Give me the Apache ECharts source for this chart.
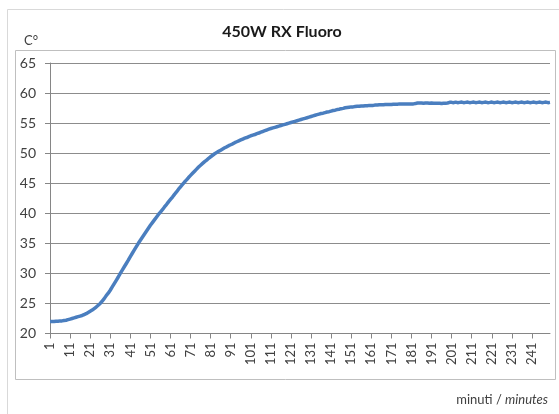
<!DOCTYPE html>
<html>
<head>
<meta charset="utf-8">
<script src="https://cdn.jsdelivr.net/npm/echarts@6/dist/echarts.min.js"></script>
<style>
  html, body { margin: 0; padding: 0; background: #ffffff; }
  #chart { width: 559px; height: 414px; }
</style>
</head>
<body>
<div id="chart"></div>
<script>
// Temperature (°C) logged once per minute, minutes 1..250
const temps01to50 = [
  22.0, 22.0, 22.0, 22.05, 22.05, 22.1, 22.1, 22.15, 22.2, 22.3,
  22.4, 22.5, 22.6, 22.7, 22.8, 22.9, 23.0, 23.15, 23.3, 23.5,
  23.7, 23.9, 24.15, 24.4, 24.7, 25.0, 25.4, 25.8, 26.3, 26.7,
  27.2, 27.75, 28.3, 28.85, 29.4, 30.0, 30.55, 31.1, 31.65, 32.2,
  32.8, 33.35, 33.9, 34.45, 35.0, 35.5, 36.0, 36.5, 37.0, 37.5
];
const temps51to100 = [
  38.0, 38.45, 38.9, 39.35, 39.8, 40.2, 40.6, 41.05, 41.45, 41.9,
  42.3, 42.7, 43.15, 43.55, 44.0, 44.4, 44.8, 45.2, 45.55, 45.95,
  46.3, 46.65, 47.0, 47.35, 47.7, 48.0, 48.3, 48.6, 48.85, 49.15,
  49.4, 49.65, 49.9, 50.1, 50.3, 50.5, 50.7, 50.9, 51.05, 51.25,
  51.4, 51.55, 51.75, 51.9, 52.05, 52.2, 52.35, 52.5, 52.6, 52.75
];
const temps101to150 = [
  52.9, 53.0, 53.1, 53.25, 53.35, 53.5, 53.6, 53.75, 53.85, 54.0,
  54.1, 54.2, 54.3, 54.4, 54.5, 54.6, 54.7, 54.8, 54.9, 55.0,
  55.1, 55.2, 55.3, 55.4, 55.5, 55.6, 55.7, 55.8, 55.9, 56.0,
  56.1, 56.2, 56.3, 56.4, 56.5, 56.6, 56.65, 56.75, 56.85, 56.9,
  57.0, 57.1, 57.15, 57.25, 57.3, 57.4, 57.45, 57.55, 57.6, 57.65
];
const temps151to200 = [
  57.7, 57.7, 57.75, 57.8, 57.8, 57.85, 57.85, 57.9, 57.9, 57.95,
  57.95, 57.95, 58.0, 58.0, 58.05, 58.05, 58.05, 58.1, 58.1, 58.1,
  58.1, 58.15, 58.15, 58.15, 58.2, 58.2, 58.2, 58.2, 58.2, 58.2,
  58.2, 58.2, 58.25, 58.35, 58.35, 58.35, 58.3, 58.35, 58.35, 58.3,
  58.35, 58.3, 58.3, 58.3, 58.3, 58.25, 58.3, 58.3, 58.35, 58.45
];
const temps201to250 = [
  58.45, 58.4, 58.5, 58.4, 58.45, 58.5, 58.4, 58.45, 58.5, 58.4,
  58.45, 58.5, 58.4, 58.45, 58.5, 58.4, 58.45, 58.5, 58.4, 58.45,
  58.5, 58.4, 58.45, 58.5, 58.4, 58.45, 58.5, 58.4, 58.45, 58.5,
  58.4, 58.45, 58.5, 58.4, 58.45, 58.5, 58.4, 58.45, 58.5, 58.4,
  58.45, 58.5, 58.4, 58.45, 58.5, 58.4, 58.45, 58.5, 58.4, 58.45
];

const temperatures = [].concat(temps01to50, temps51to100, temps101to150, temps151to200, temps201to250);
const minutes = temperatures.map((_, i) => String(i + 1));

const yMin = 20, yMax = 65, yStep = 5;
const titleText = '450W RX Fluoro';
const yUnit = 'C°';
const xUnitIt = 'minuti';
const xUnitEn = 'minutes';

const FONT = 'Lato, "Open Sans", sans-serif';
const chart = echarts.init(document.getElementById('chart'), null, { renderer: 'canvas' });

chart.setOption({
  animation: false,
  backgroundColor: '#ffffff',
  grid: { left: 50, top: 63, right: 9, bottom: 80.5, containLabel: false },
  xAxis: {
    type: 'category',
    data: minutes,
    boundaryGap: false,
    axisLine: { lineStyle: { color: '#868686', width: 1 } },
    axisTick: { show: true, interval: 9, length: 5, lineStyle: { color: '#868686' } },
    axisLabel: {
      interval: 9, rotate: 90, margin: 9,
      color: '#404040', fontFamily: FONT, fontSize: 13
    },
    splitLine: { show: false }
  },
  yAxis: {
    type: 'value',
    min: yMin, max: yMax, interval: yStep,
    axisLine: { show: true, lineStyle: { color: '#868686', width: 1 } },
    axisTick: { show: true, length: 5, lineStyle: { color: '#868686' } },
    axisLabel: { color: '#404040', fontFamily: FONT, fontSize: 14, margin: 14 },
    splitLine: { show: true, lineStyle: { color: '#8c8c8c', width: 1 } }
  },
  series: [{
    type: 'line',
    data: temperatures,
    showSymbol: false,
    smooth: false,
    lineStyle: { color: '#4a7ebf', width: 3.5 },
    itemStyle: { color: '#4a7ebf' }
  }],
  graphic: [
    {
      type: 'rect', silent: true, z: -1,
      shape: { x: 7.5, y: 9.5, width: 560, height: 420 },
      style: { fill: 'none', stroke: '#d9d9d9', lineWidth: 1 }
    },
    {
      type: 'rect', silent: true, z: -1,
      shape: { x: 15.5, y: 50.5, width: 540, height: 329 },
      style: { fill: 'none', stroke: '#bfbfbf', lineWidth: 1 }
    },
    {
      type: 'text', silent: true,
      x: 282, y: 32,
      style: {
        text: titleText, align: 'center', verticalAlign: 'middle',
        font: 'bold 16px ' + FONT, fill: '#1a1a1a'
      }
    },
    {
      type: 'text', silent: true,
      x: 24, y: 41,
      style: {
        text: yUnit, align: 'left', verticalAlign: 'middle',
        font: '13px ' + FONT, fill: '#404040'
      }
    },
    {
      type: 'text', silent: true,
      x: 548, y: 400,
      style: {
        text: '{a|' + xUnitIt + ' / }{b|' + xUnitEn + '}',
        align: 'right', verticalAlign: 'middle',
        rich: {
          a: { fontFamily: FONT, fontSize: 13, fill: '#404040', color: '#404040' },
          b: { fontFamily: FONT, fontSize: 13, fontStyle: 'italic', fill: '#404040', color: '#404040' }
        }
      }
    }
  ]
});
</script>
</body>
</html>
